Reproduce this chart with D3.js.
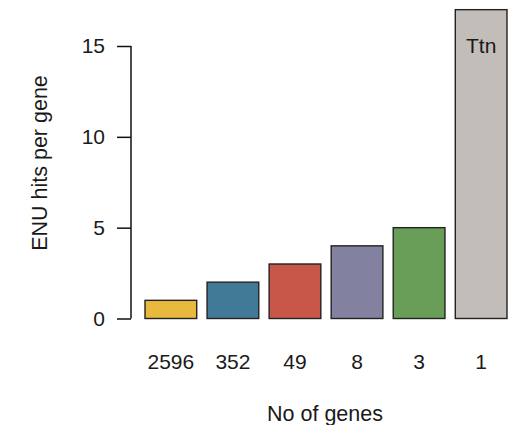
<!DOCTYPE html>
<html>
<head>
<meta charset="utf-8">
<script src="https://cdn.jsdelivr.net/npm/d3@7"></script>
<style>
  body { margin: 0; background: #fff; }
  text { font-family: "Liberation Sans", Arial, sans-serif; fill: #1a1a1a; }
</style>
</head>
<body>
<div id="chart"></div>
<script>
// data
const geneCounts = ['2596', '352', '49', '8', '3', '1'];
const hitsPerGene = [1, 2, 3, 4, 5, 17];
const barColors = ['#e8b93c', '#407a96', '#c85749', '#8282a0', '#699e58', '#c2bdb8'];
const yTicks = [0, 5, 10, 15];
const barLabels = ['', '', '', '', '', 'Ttn'];

const width = 515;
const height = 425;

const svg = d3.select('#chart')
  .append('svg')
  .attr('width', width)
  .attr('height', height);

const x = d3.scaleBand()
  .domain(geneCounts)
  .range([145, 507])
  .paddingInner(0.2 / 1.2)
  .paddingOuter(0);

const y = d3.scaleLinear()
  .domain([0, 15])
  .range([318.5, 46]);

// bars
svg.selectAll('rect.bar')
  .data(hitsPerGene)
  .join('rect')
  .attr('class', 'bar')
  .attr('x', (d, i) => x(geneCounts[i]))
  .attr('y', d => y(d))
  .attr('width', x.bandwidth())
  .attr('height', d => y(0) - y(d))
  .attr('fill', (d, i) => barColors[i])
  .attr('stroke', '#222')
  .attr('stroke-width', 1.4);

// label inside the tall bar
svg.selectAll('text.barlab')
  .data(hitsPerGene)
  .join('text')
  .attr('class', 'barlab')
  .attr('x', (d, i) => x(geneCounts[i]) + x.bandwidth() / 2)
  .attr('y', d => y(d) + 43)
  .attr('text-anchor', 'middle')
  .style('font-size', '21px')
  .text((d, i) => barLabels[i]);

// y axis
const yAxis = svg.append('g')
  .attr('transform', 'translate(131,0)')
  .call(d3.axisLeft(y).tickValues(yTicks).tickSize(14).tickPadding(12));
yAxis.select('.domain').attr('d', `M0,${y(0)}V${y(15)}`).attr('stroke', '#111').attr('stroke-width', 1.5);
yAxis.selectAll('.tick line').attr('stroke', '#111').attr('stroke-width', 1.5);
yAxis.selectAll('.tick text')
  .style('font-size', '21px')
  .style('font-family', '"Liberation Sans", Arial, sans-serif')
  .attr('fill', '#1a1a1a');

// category labels (no axis line, as in the reference)
svg.selectAll('text.cat')
  .data(geneCounts)
  .join('text')
  .attr('class', 'cat')
  .attr('x', d => x(d) + x.bandwidth() / 2)
  .attr('y', 369)
  .attr('text-anchor', 'middle')
  .style('font-size', '21px')
  .text(d => d);

// axis titles
svg.append('text')
  .attr('x', 325)
  .attr('y', 421)
  .attr('text-anchor', 'middle')
  .style('font-size', '21.5px')
  .text('No of genes');

svg.append('text')
  .attr('transform', 'translate(47,163) rotate(-90)')
  .attr('text-anchor', 'middle')
  .style('font-size', '21.5px')
  .text('ENU hits per gene');
</script>
</body>
</html>
